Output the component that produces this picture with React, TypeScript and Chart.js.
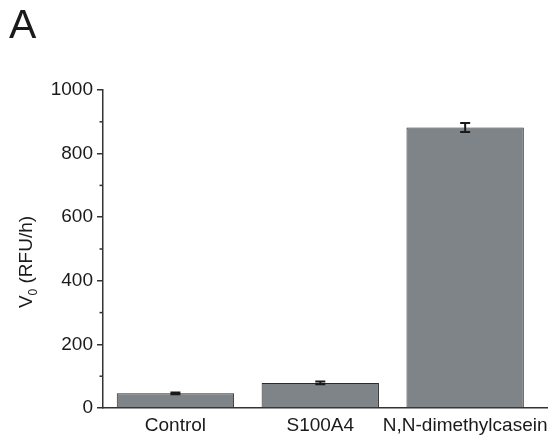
import React, { useEffect, useRef } from "react";
import { Chart, registerables } from "chart.js";

Chart.register(...registerables);

const categories = ["Control", "S100A4", "N,N-dimethylcasein"];
const positions = [1, 2, 3];
const values = [46, 79, 882];
const errors = [3, 4, 14];
const yTicksMajor = [0, 200, 400, 600, 800, 1000];
const yTicksMinor = [100, 300, 500, 700, 900];
const panelLabel = "A";

const FONT = "'Liberation Sans', Arial, sans-serif";
const TEXT = "#1a1a1a";
const AXIS = "#333333";

const extrasPlugin = {
  id: "extras",
  afterDatasetsDraw(chart: any) {
    const ctx = chart.ctx;
    const y = chart.scales.y;
    const meta = chart.getDatasetMeta(0);
    ctx.save();
    ctx.strokeStyle = "#1a1a1a";
    ctx.lineWidth = 2;
    meta.data.forEach((el: any, i: number) => {
      const x = el.x;
      const top = y.getPixelForValue(values[i] + errors[i]);
      const bot = y.getPixelForValue(values[i] - errors[i]);
      const cap = 5;
      ctx.beginPath();
      ctx.moveTo(x, top);
      ctx.lineTo(x, bot);
      ctx.moveTo(x - cap, top);
      ctx.lineTo(x + cap, top);
      ctx.moveTo(x - cap, bot);
      ctx.lineTo(x + cap, bot);
      ctx.stroke();
    });
    ctx.restore();
  },
  afterDraw(chart: any) {
    const ctx = chart.ctx;
    const y = chart.scales.y;
    const area = chart.chartArea;
    ctx.save();
    ctx.strokeStyle = AXIS;
    ctx.lineWidth = 1.5;
    yTicksMinor.forEach((v) => {
      const py = y.getPixelForValue(v);
      ctx.beginPath();
      ctx.moveTo(area.left - 3.5, py);
      ctx.lineTo(area.left, py);
      ctx.stroke();
    });
    ctx.fillStyle = TEXT;
    ctx.font = `41px ${FONT}`;
    ctx.textBaseline = "alphabetic";
    ctx.textAlign = "left";
    ctx.fillText(panelLabel, 9, 38);
    const size = 19;
    const subSize = 12;
    const parts = [
      { t: "V", f: `${size}px ${FONT}`, dy: 0 },
      { t: "0", f: `${subSize}px ${FONT}`, dy: 5 },
      { t: " (RFU/h)", f: `${size}px ${FONT}`, dy: 0 },
    ];
    let total = 0;
    parts.forEach((p) => {
      ctx.font = p.f;
      total += ctx.measureText(p.t).width;
    });
    const cx = 32;
    const cy = 262;
    ctx.translate(cx, cy);
    ctx.rotate(-Math.PI / 2);
    let xx = -total / 2;
    parts.forEach((p) => {
      ctx.font = p.f;
      ctx.fillText(p.t, xx, p.dy);
      xx += ctx.measureText(p.t).width;
    });
    ctx.restore();
  },
};

export default function App() {
  const ref = useRef<HTMLCanvasElement | null>(null);
  useEffect(() => {
    if (!ref.current) return;
    const chart = new Chart(ref.current, {
      type: "bar",
      data: {
        datasets: [
          {
            data: positions.map((p, i) => ({ x: p, y: values[i] })),
            backgroundColor: "#7f8488",
            borderColor: "#2b2b2b",
            borderWidth: 1,
            barPercentage: 0.81,
            categoryPercentage: 1,
          },
        ],
      },
      options: {
        animation: false,
        responsive: false,
        maintainAspectRatio: false,
        layout: { padding: { top: 90, right: 9, left: 0, bottom: 0 } },
        plugins: { legend: { display: false }, tooltip: { enabled: false } },
        scales: {
          x: {
            type: "linear",
            offset: false,
            min: 0.5,
            max: 3.565,
            afterBuildTicks: (s: any) => {
              s.ticks = positions.map((v) => ({ value: v }));
            },
            afterFit: (s: any) => {
              s.height = 38;
            },
            grid: { display: false, drawTicks: false, offset: false },
            border: { display: true, color: AXIS, width: 1.5 },
            ticks: {
              color: TEXT,
              font: { family: FONT, size: 19 },
              padding: 6,
              maxRotation: 0,
              autoSkip: false,
              callback: (v: any) => {
                const i = positions.indexOf(v);
                return i >= 0 ? categories[i] : "";
              },
            },
          },
          y: {
            min: 0,
            max: 1000,
            afterBuildTicks: (s: any) => {
              s.ticks = yTicksMajor.map((v) => ({ value: v }));
            },
            afterFit: (s: any) => {
              s.width = 103;
            },
            grid: {
              display: true,
              drawOnChartArea: false,
              drawTicks: true,
              tickLength: 6,
              color: AXIS,
              lineWidth: 1.5,
            },
            border: { display: true, color: AXIS, width: 1.5 },
            ticks: {
              color: TEXT,
              font: { family: FONT, size: 19 },
              padding: 4,
              callback: (v: any) => String(v),
            },
          },
        },
      },
      plugins: [extrasPlugin],
    });
    return () => chart.destroy();
  }, []);
  return (
    <div style={{ position: "absolute", left: 0, top: 0, width: 556, height: 446, background: "#fff" }}>
      <canvas ref={ref} width={556} height={446} style={{ display: "block", width: 556, height: 446 }} />
    </div>
  );
}
